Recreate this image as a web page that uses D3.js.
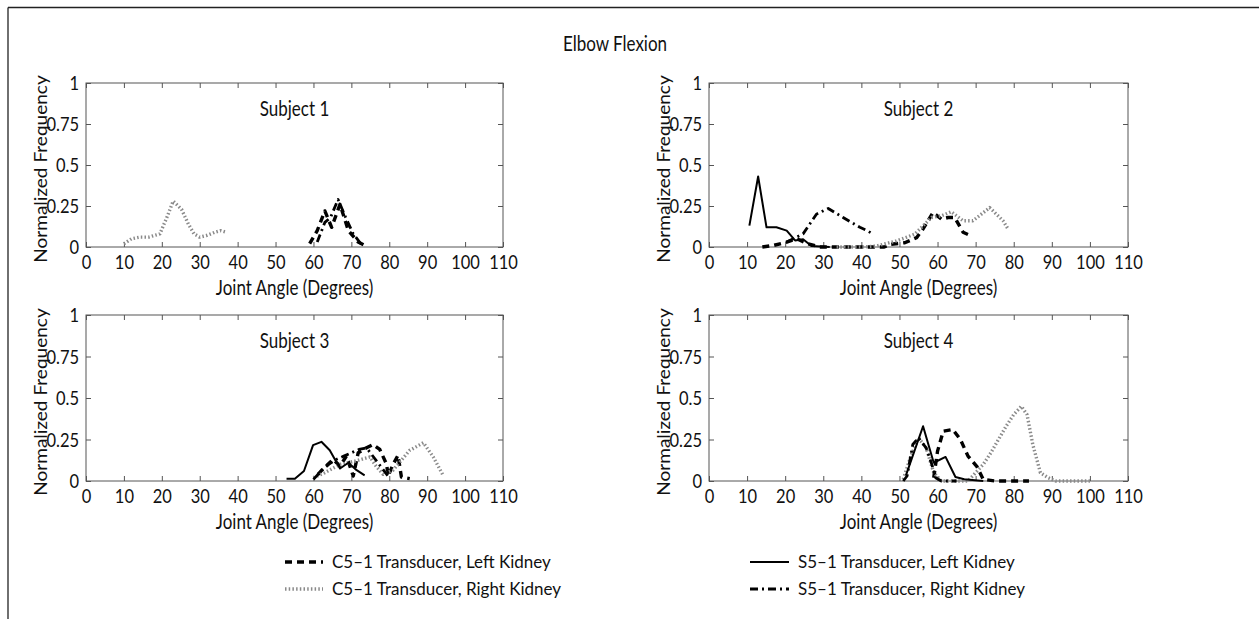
<!DOCTYPE html>
<html>
<head>
<meta charset="utf-8">
<title>Elbow Flexion</title>
<script src="https://cdn.jsdelivr.net/npm/d3@7"></script>
<style>
  body { margin: 0; background: #fff; }
  svg { font-family: Lato, "Open Sans", sans-serif; }
  .axis text { font-size: 16.5px; fill: #111; font-family: Lato, sans-serif; }
  .lbl { font-size: 17px; fill: #111; }
</style>
</head>
<body>
<script>
// tick values
var xTicks = [0, 10, 20, 30, 40, 50, 60, 70, 80, 90, 100, 110];
var yTicks = [0, 0.25, 0.5, 0.75, 1];
var seriesNames = ["C5\u20131 Transducer, Left Kidney", "C5\u20131 Transducer, Right Kidney",
                   "S5\u20131 Transducer, Left Kidney", "S5\u20131 Transducer, Right Kidney"];
var subjects = ["Subject 1", "Subject 2", "Subject 3", "Subject 4"];

// [joint angle, normalized frequency]
var s1C5Left  = [[59,0.02],[61,0.1],[63,0.22],[64.8,0.12],[67,0.26],[69.2,0.1],[71.8,0.03],[73.5,0.01]];
var s1C5Right = [[10,0.02],[12,0.05],[14.2,0.06],[16.5,0.06],[19.5,0.08],[21.5,0.19],[23,0.28],[25.2,0.23],[27,0.14],[28.5,0.08],[30,0.06],[31.8,0.07],[34,0.09],[35.5,0.1],[37,0.09]];
var s1S5Left  = [];
var s1S5Right = [[61,0.03],[63,0.15],[64.5,0.18],[66.5,0.29],[68.5,0.18],[70.5,0.08],[72.5,0.02]];

var s2C5Left  = [[14,0],[17,0.01],[20.4,0.03],[23,0.05],[26,0.02],[29,0],[46,0],[47.5,0.016],[51.4,0.026],[54.5,0.057],[56.2,0.11],[58.8,0.21],[61,0.17],[62.8,0.18],[64.5,0.18],[66.7,0.09],[68.9,0.067]];
var s2C5Right = [[33.5,0],[40,0],[44,0.006],[49.2,0.037],[54,0.078],[58.4,0.18],[61,0.19],[63.6,0.215],[66.7,0.16],[69.3,0.16],[73.7,0.24],[77.2,0.16],[78.5,0.11]];
var s2S5Left  = [[10.6,0.13],[12.9,0.43],[15.1,0.12],[17.7,0.12],[20.4,0.1],[22.6,0.04],[24.7,0.047],[26.9,0.006],[31.7,0]];
var s2S5Right = [[20.4,0.03],[24.7,0.08],[28.2,0.2],[31.3,0.235],[35.2,0.18],[39.6,0.12],[41.5,0.1],[43.1,0.078]];

var s3C5Left  = [[61.2,0.04],[62.6,0.075],[65.2,0.13],[67,0.09],[68.7,0.15],[70.5,0.03],[71.8,0.17],[74,0.2],[75.7,0.22],[77.5,0.19],[79.3,0.1],[79.7,0.03],[81,0.1],[82.3,0.155],[83.2,0.024],[85.4,0.014]];
var s3C5Right = [[60,0.02],[63,0.05],[67,0.1],[71,0.12],[74.9,0.145],[76.5,0.09],[78.4,0.04],[81,0.065],[83,0.12],[85.4,0.185],[89,0.23],[91.6,0.145],[94.2,0.034]];
var s3S5Left  = [[52.9,0.014],[55.1,0.014],[57.5,0.06],[59.9,0.216],[62.1,0.236],[64.3,0.185],[67,0.075],[69.2,0.11],[71.4,0.065],[73.5,0.034]];
var s3S5Right = [[60,0.01],[62,0.06],[64,0.1],[66,0.13],[68,0.15],[70,0.17],[72,0.19],[74,0.2],[76,0.14],[78,0.08],[80,0.02]];

var s4C5Left  = [[59,0.02],[60,0.18],[61.5,0.3],[64,0.31],[66,0.25],[68,0.15],[70.4,0.085],[72,0.01],[75,0],[80,0],[84,0]];
var s4C5Right = [[51,0.01],[53,0.15],[55,0.26],[57,0.2],[59,0.05],[61,0],[68,0],[70,0.05],[72,0.1],[74,0.17],[76,0.25],[78,0.33],[80,0.4],[82,0.45],[83.5,0.4],[85,0.22],[87,0.05],[89,0.02],[91,0],[100,0]];
var s4S5Left  = [[51.7,0.034],[56.2,0.33],[59,0.11],[62.1,0.145],[64.7,0.024],[67,0.01],[72,0]];
var s4S5Right = [[51,0],[52,0.03],[53.5,0.22],[55,0.26],[57,0.2],[58.5,0.1],[59.5,0.02],[61,0],[63,0],[65,0]];

var subjectData = [
  [s1C5Left, s1C5Right, s1S5Left, s1S5Right],
  [s2C5Left, s2C5Right, s2S5Left, s2S5Right],
  [s3C5Left, s3C5Right, s3S5Left, s3S5Right],
  [s4C5Left, s4C5Right, s4S5Left, s4S5Right]
];

// line styles, same order as seriesNames
var styles = [
  {stroke: "#000", width: 3.4, dash: "7,5"},
  {stroke: "#8a8a8a", width: 3.4, dash: "1.5,2.2"},
  {stroke: "#000", width: 2, dash: null},
  {stroke: "#000", width: 2.8, dash: "8,4,2,4"}
];

var W = 1259, H = 619;
var svg = d3.select("body").append("svg").attr("width", W).attr("height", H);

// the panel lettering in the original is a little taller than wide
var stretch = 1.22;
function tall(sel) {
  sel.each(function() {
    var b = this.getBBox(), cy = b.y + b.height / 2;
    d3.select(this).attr("transform", "translate(0," + cy + ") scale(1," + stretch + ") translate(0," + (-cy) + ")");
  });
}

// frame (top and left edges only)
svg.append("line").attr("x1", 8).attr("y1", 7.5).attr("x2", W).attr("y2", 7.5).attr("stroke", "#222").attr("stroke-width", 1.3);
svg.append("line").attr("x1", 8).attr("y1", 7.5).attr("x2", 8).attr("y2", H).attr("stroke", "#222").attr("stroke-width", 1.3);

svg.append("text").attr("class", "lbl").attr("x", 615).attr("y", 50)
  .attr("text-anchor", "middle").text("Elbow Flexion").call(tall);

var panels = [
  {left: 86, top: 83, right: 503, bottom: 247},
  {left: 709, top: 83, right: 1128, bottom: 247},
  {left: 86, top: 315, right: 503, bottom: 481},
  {left: 709, top: 315, right: 1128, bottom: 481}
];

function tidy(a) {
  a.select(".domain").remove();
  a.selectAll("line").attr("stroke", "#555");
}

panels.forEach(function(p, i) {
  var x = d3.scaleLinear().domain([0, 110]).range([p.left, p.right]);
  var y = d3.scaleLinear().domain([0, 1]).range([p.bottom, p.top]);
  var g = svg.append("g");

  // box
  g.append("rect").attr("x", p.left).attr("y", p.top)
    .attr("width", p.right - p.left).attr("height", p.bottom - p.top)
    .attr("fill", "none").attr("stroke", "#555").attr("stroke-width", 1);

  g.append("g").attr("class", "axis").attr("transform", "translate(0," + p.bottom + ")")
    .call(d3.axisBottom(x).tickValues(xTicks).tickSize(-5).tickPadding(9).tickFormat(d3.format("d")))
    .call(tidy)
    .selectAll("text").call(tall);
  g.append("g").attr("transform", "translate(0," + p.top + ")")
    .call(d3.axisTop(x).tickValues(xTicks).tickSize(-5).tickFormat(""))
    .call(tidy);
  g.append("g").attr("class", "axis").attr("transform", "translate(" + p.left + ",0)")
    .call(d3.axisLeft(y).tickValues(yTicks).tickSize(-5).tickPadding(7).tickFormat(String))
    .call(tidy)
    .selectAll("text").call(tall);
  g.append("g").attr("transform", "translate(" + p.right + ",0)")
    .call(d3.axisRight(y).tickValues(yTicks).tickSize(-5).tickFormat(""))
    .call(tidy);

  g.append("text").attr("class", "lbl").attr("text-anchor", "middle")
    .attr("x", (p.left + p.right) / 2).attr("y", p.bottom + 47).text("Joint Angle (Degrees)").call(tall);
  g.append("text").attr("class", "lbl").attr("text-anchor", "middle")
    .attr("transform", "translate(" + (p.left - 39) + "," + ((p.top + p.bottom) / 2 + 4) + ") rotate(-90) scale(1.12,1)")
    .text("Normalized Frequency");
  g.append("text").attr("class", "lbl").attr("text-anchor", "middle")
    .attr("x", x(55)).attr("y", p.top + 32).text(subjects[i]).call(tall);

  var line = d3.line().x(function(d) { return x(d[0]); }).y(function(d) { return y(d[1]); });
  subjectData[i].forEach(function(data, k) {
    if (!data.length) return;
    var st = styles[k];
    g.append("path").datum(data).attr("d", line)
      .attr("fill", "none").attr("stroke", st.stroke).attr("stroke-width", st.width)
      .attr("stroke-dasharray", st.dash).attr("stroke-linejoin", "round");
  });
});

// legend
var legendPos = [
  {x1: 285, x2: 323, y: 562},
  {x1: 285, x2: 323, y: 589},
  {x1: 750, x2: 789, y: 562},
  {x1: 750, x2: 789, y: 589}
];
seriesNames.forEach(function(name, k) {
  var lp = legendPos[k], st = styles[k];
  svg.append("line").attr("x1", lp.x1).attr("x2", lp.x2).attr("y1", lp.y).attr("y2", lp.y)
    .attr("stroke", st.stroke).attr("stroke-width", st.width).attr("stroke-dasharray", st.dash);
  svg.append("text").attr("class", "lbl").attr("x", lp.x2 + 9).attr("y", lp.y + 6).text(name);
});
</script>
</body>
</html>
